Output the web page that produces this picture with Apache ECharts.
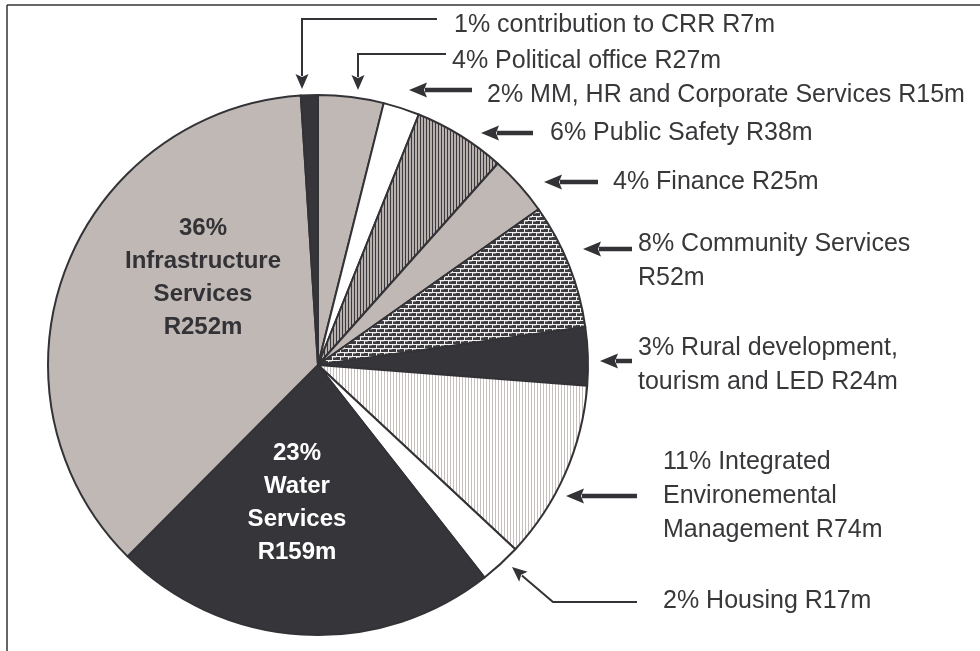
<!DOCTYPE html>
<html>
<head>
<meta charset="utf-8">
<script src="https://cdn.jsdelivr.net/npm/echarts@6/dist/echarts.min.js"></script>
<style>html,body{margin:0;padding:0;background:#fff;}#c{width:980px;height:651px;}</style>
</head>
<body>
<div id="c"></div>
<script>
// ---- data (clockwise from 12 o'clock) ----
const categories = ['Political office', 'MM, HR and Corporate Services', 'Public Safety', 'Finance',
  'Community Services', 'Rural development, tourism and LED', 'Integrated Environemental Management',
  'Housing', 'Water Services', 'Infrastructure Services', 'contribution to CRR'];
const values = [27, 15, 38, 25, 52, 24, 74, 17, 159, 252, 7];
const percents = [4, 2, 6, 4, 8, 3, 11, 2, 23, 36, 1];
const labelTexts = [
  '4% Political office R27m',
  '2% MM, HR and Corporate Services R15m',
  '6% Public Safety R38m',
  '4% Finance R25m',
  '8% Community Services\nR52m',
  '3% Rural development,\ntourism and LED R24m',
  '11% Integrated\nEnvironemental\nManagement R74m',
  '2% Housing R17m',
  '23%\nWater\nServices\nR159m',
  '36%\nInfrastructure\nServices\nR252m',
  '1% contribution to CRR R7m'
];

// ---- annotation layout (label anchor, arrow paths) ----
const labelX = [452, 487, 550, 613, 638, 638, 663, 663, 297, 203, 454];
const labelY = [61, 95, 133, 182, 261, 365, 496, 601, 503, 278, 25];
const labelAlign = ['left','left','left','left','left','left','left','left','center','center','left'];
const arrowPaths = [
  [[446, 54], [358, 54], [358, 90]],
  [[472, 90], [409, 90]],
  [[533, 133], [481, 133]],
  [[598, 182], [544, 182]],
  [[632, 249], [583, 249]],
  [[632, 361], [600, 361]],
  [[637, 496], [566, 496]],
  [[637, 602], [553, 602], [512, 567]],
  null, null,
  [[437, 19], [302, 19], [302, 89]]
];
const arrowWidths = [2, 4.5, 4.5, 4.5, 4.5, 4.5, 4.5, 2, 0, 0, 2];

// ---- fills ----
const GREY = '#c0b8b5', DARK = '#363539', INK = '#333236';
function stripeCanvas(bg, fg, period) {
  const c = document.createElement('canvas'); c.width = period; c.height = 4;
  const g = c.getContext('2d'); g.fillStyle = bg; g.fillRect(0, 0, period, 4);
  g.fillStyle = fg; g.fillRect(0, 0, 1, 4); return c;
}
function brickCanvas() {
  const c = document.createElement('canvas'); c.width = 8; c.height = 8;
  const g = c.getContext('2d');
  g.fillStyle = '#3d3c40'; g.fillRect(0, 0, 8, 8);
  g.fillStyle = '#8f8a8b'; g.fillRect(1, 1, 3, 1); g.fillRect(5, 5, 3, 1);
  g.fillStyle = '#f2f0ef';
  g.fillRect(0, 0, 8, 1); g.fillRect(0, 4, 8, 1);
  g.fillRect(0, 1, 1, 3); g.fillRect(4, 5, 1, 3);
  return c;
}
const fills = [
  GREY, '#ffffff',
  { image: stripeCanvas('#b8b0ad', '#3a393d', 3), repeat: 'repeat' },
  GREY,
  { image: brickCanvas(), repeat: 'repeat' },
  DARK,
  { image: stripeCanvas('#ffffff', '#c6bfbc', 3), repeat: 'repeat' },
  '#ffffff', DARK, GREY, DARK
];

const data = categories.map((name, i) => ({
  name: name,
  value: values[i],
  itemStyle: { color: fills[i] },
  label: i === 8 ? { color: '#ffffff', fontWeight: 'bold', fontSize: 24, lineHeight: 33 }
       : i === 9 ? { color: INK, fontWeight: 'bold', fontSize: 24, lineHeight: 33 }
       : {}
}));

// ---- arrows as graphic ----
function arrowGraphic(pts, w) {
  const n = pts.length;
  const tip = pts[n - 1], prev = pts[n - 2];
  let dx = tip[0] - prev[0], dy = tip[1] - prev[1];
  const L = Math.sqrt(dx * dx + dy * dy); dx /= L; dy /= L;
  const headLen = w > 3 ? 18 : 15, headW = w > 3 ? 15 : 13;
  const base = [tip[0] - dx * headLen, tip[1] - dy * headLen];
  const shaft = pts.slice(0, n - 1).concat([[base[0] + dx * 2, base[1] + dy * 2]]);
  const nx = -dy, ny = dx;
  return [
    { type: 'polyline', silent: true, shape: { points: shaft },
      style: { stroke: INK, lineWidth: w, fill: null, lineJoin: 'miter' } },
    { type: 'polygon', silent: true, shape: { points: [tip,
        [base[0] + nx * headW / 2, base[1] + ny * headW / 2],
        [base[0] + dx * 3, base[1] + dy * 3],
        [base[0] - nx * headW / 2, base[1] - ny * headW / 2]] },
      style: { fill: INK } }
  ];
}
const graphics = [
  { type: 'line', silent: true, shape: { x1: 7, y1: 5, x2: 980, y2: 5 }, style: { stroke: '#333', lineWidth: 1.5 } },
  { type: 'line', silent: true, shape: { x1: 7, y1: 5, x2: 7, y2: 651 }, style: { stroke: '#333', lineWidth: 1.5 } }
];
arrowPaths.forEach((p, i) => { if (p) graphics.push(...arrowGraphic(p, arrowWidths[i])); });

const chart = echarts.init(document.getElementById('c'), null, { renderer: 'canvas' });
chart.setOption({
  animation: false,
  backgroundColor: '#ffffff',
  graphic: graphics,
  series: [{
    type: 'pie',
    center: [318, 365],
    radius: 270,
    startAngle: 90,
    clockwise: true,
    avoidLabelOverlap: false,
    emphasis: { disabled: true },
    itemStyle: { borderColor: INK, borderWidth: 2 },
    label: {
      show: true,
      position: 'outside',
      formatter: p => labelTexts[p.dataIndex],
      fontFamily: 'Liberation Sans',
      fontSize: 25,
      lineHeight: 34,
      color: '#38373a'
    },
    labelLine: { show: false },
    labelLayout: function (params) {
      const i = params.dataIndex;
      return { x: labelX[i], y: labelY[i], align: labelAlign[i], verticalAlign: 'middle', hideOverlap: false, moveOverlap: null };
    },
    data: data
  }]
});
</script>
</body>
</html>
